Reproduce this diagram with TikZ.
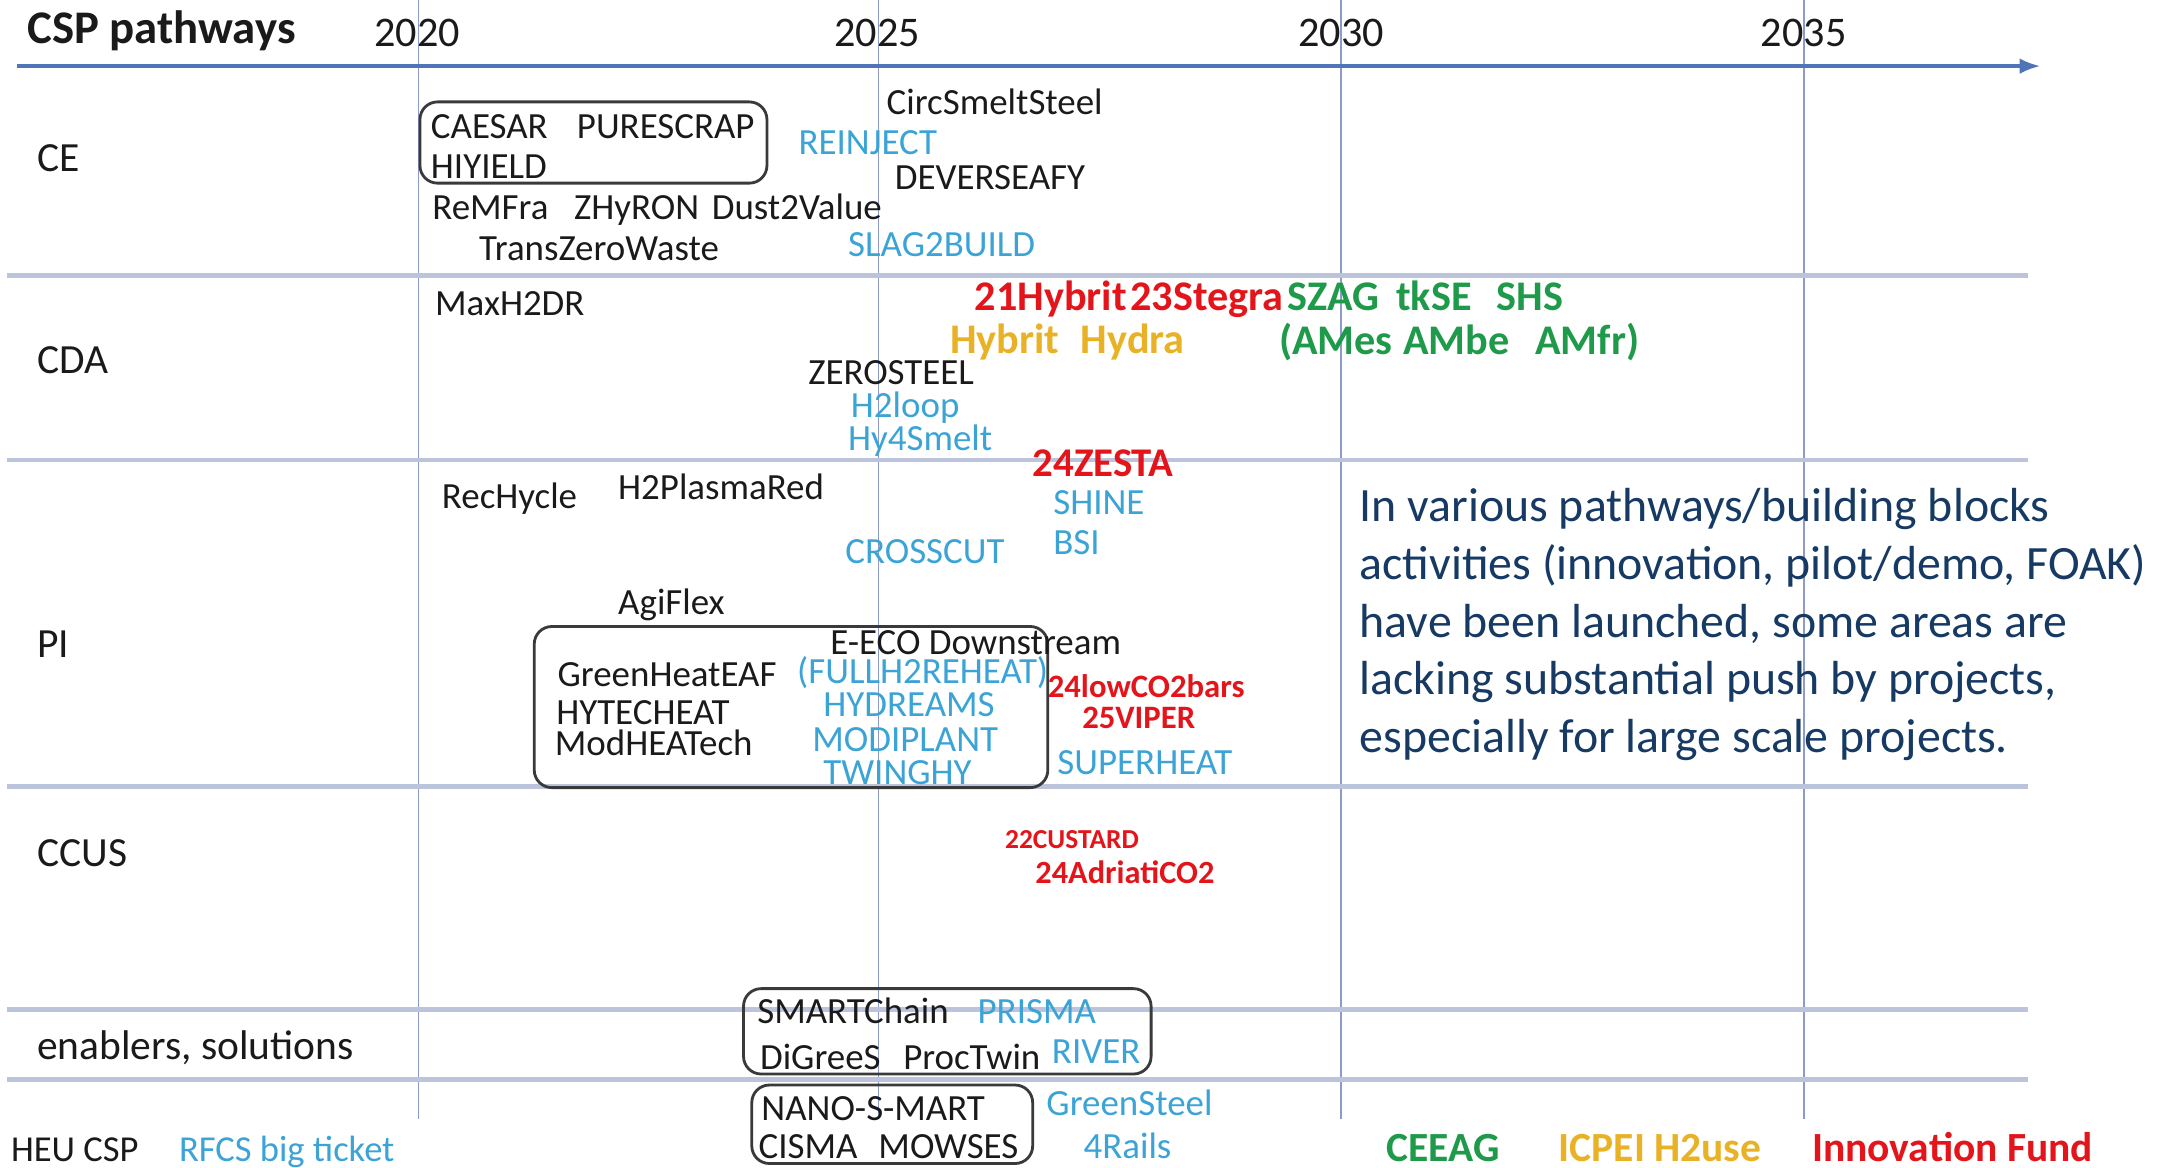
\documentclass[tikz,border=0pt]{standalone}
\usepackage{fontspec}
\setmainfont{Carlito}
\usetikzlibrary{arrows.meta}
\definecolor{projblue}{HTML}{3BA3D6}
\definecolor{projblack}{HTML}{1A1A1A}
\definecolor{ifred}{HTML}{E3151B}
\definecolor{ceegreen}{HTML}{1F9A4A}
\definecolor{h2gold}{HTML}{E9B125}
\definecolor{axisblue}{HTML}{4F75B8}
\definecolor{gridv}{HTML}{8C9BC9}
\definecolor{gridh}{HTML}{BCC4DC}
\definecolor{navytext}{HTML}{163A64}
\definecolor{boxgray}{HTML}{3A3A3A}
\newcommand\du{0.013769cm}
\newcommand\myfs[1]{\fontsize{#1}{#1}\selectfont}
\begin{document}
\begin{tikzpicture}[x=0.013769cm,y=-0.013769cm,
  txt/.style={anchor=mid west, inner sep=0pt, outer sep=0pt, yshift=-1.3pt},
  proj/.style={txt, font=\myfs{10.5}, text=projblack},
  projb/.style={proj, text=projblue},
  fundred/.style={txt, font=\bfseries\myfs{12}, text=ifred},
  fundgreen/.style={txt, font=\bfseries\myfs{12}, text=ceegreen},
  fundgold/.style={txt, font=\bfseries\myfs{12}, text=h2gold},
  rowlabel/.style={txt, font=\myfs{11.8}, text=projblack},
  yearlabel/.style={anchor=mid, inner sep=0pt, yshift=-1.3pt, font=\myfs{12}, text=projblack},
  grpbox/.style={draw=boxgray, line width=0.8pt, rounded corners=5pt, inner sep=0pt},
  hline/.style={draw=gridh, line width=1.3pt},
  vline/.style={draw=gridv, line width=0.45pt}
]
\useasboundingbox (0,0) rectangle (1568,848);
% vertical year lines
\foreach \xx in {304,638,974,1310} {\draw[vline] (\xx,0) -- (\xx,813);}
% row separators
\foreach \yy in {200,334,571,733,784} {\draw[hline] (5,\yy) -- (1473,\yy);}
% axis
\coordinate (axL) at (12,48);
\coordinate (axR) at (1482,48);
\draw[axisblue, line width=1.1pt, -{Latex[length=6pt,width=4.5pt]}] (axL) -- (axR);

% header
\node[txt, font=\bfseries\myfs{13.3}, text=projblack] (title) at (20,22) {CSP pathways};
\node[yearlabel] (y2020) at (303,24) {2020};
\node[yearlabel] (y2025) at (637,24) {2025};
\node[yearlabel] (y2030) at (974,24) {2030};
\node[yearlabel] (y2035) at (1310,24) {2035};

% row labels
\node[rowlabel] (rCE) at (27,115) {CE};
\node[rowlabel] (rCDA) at (27,262) {CDA};
\node[rowlabel] (rPI) at (27,468) {PI};
\node[rowlabel] (rCCUS) at (27,620) {CCUS};
\node[rowlabel] (rEN) at (27,760) {enablers, solutions};

% boxes
\node[grpbox, minimum width=252*\du, minimum height=59*\du] (boxCE) at (431,103.5) {};
\node[grpbox, minimum width=373*\du, minimum height=117*\du] (boxPI) at (574.5,513.5) {};
\node[grpbox, minimum width=296*\du, minimum height=62*\du] (boxEN) at (688,749) {};
\node[grpbox, minimum width=204*\du, minimum height=57*\du] (boxHEU) at (648,816.5) {};

% CE
\node[proj] (caesar) at (313,91) {CAESAR};
\node[proj] (purescrap) at (419,91) {PURESCRAP};
\node[proj] (hiyield) at (313,120) {HIYIELD};
\node[proj] (circ) at (644,74) {CircSmeltSteel};
\node[projb] (reinject) at (580,103) {REINJECT};
\node[proj] (deverse) at (650,128) {DEVERSEAFY};
\node[proj] (remfra) at (314,150) {ReMFra};
\node[proj] (zhyron) at (417,150) {ZHyRON};
\node[proj] (dust) at (517,150) {Dust2Value};
\node[proj] (tzw) at (348,180) {TransZeroWaste};
\node[projb] (slag) at (616,177) {SLAG2BUILD};

% CDA
\node[proj] (maxh2) at (316,220) {MaxH2DR};
\node[fundred] (hyb21) at (708,216) {21Hybrit};
\node[fundred] (steg23) at (821,216) {23Stegra};
\node[fundgreen] (szag) at (935,216) {SZAG};
\node[fundgreen] (tkse) at (1014,216) {tkSE};
\node[fundgreen] (shs) at (1087,216) {SHS};
\node[fundgold] (hybrit) at (690,247) {Hybrit};
\node[fundgold] (hydra) at (785,247) {Hydra};
\node[fundgreen] (ames) at (929,248) {(AMes};
\node[fundgreen] (ambe) at (1019,248) {AMbe};
\node[fundgreen] (amfr) at (1115,248) {AMfr)};
\node[proj] (zerosteel) at (587,270) {ZEROSTEEL};
\node[projb] (h2loop) at (618,294) {H2loop};
\node[projb] (hy4smelt) at (616,318) {Hy4Smelt};

% PI
\node[txt, font=\bfseries\myfs{11.6}, text=ifred] (zesta) at (750,337) {24ZESTA};
\node[proj] (rechycle) at (321,360) {RecHycle};
\node[proj] (h2plasma) at (449,353) {H2PlasmaRed};
\node[projb] (shine) at (765,364) {SHINE};
\node[projb] (bsi) at (765,393) {BSI};
\node[projb] (crosscut) at (614,400) {CROSSCUT};
\node[proj] (agiflex) at (449,437) {AgiFlex};
\node[proj] (eeco) at (603,466) {E-ECO Downstream};
\node[proj] (greenheat) at (405,489) {GreenHeatEAF};
\node[projb] (fullh2) at (579,487) {(FULLH2REHEAT)};
\node[txt, font=\bfseries\myfs{9.3}, text=ifred] (lowco2) at (761,497) {24lowCO2bars};
\node[proj] (hytecheat) at (404,517) {HYTECHEAT};
\node[projb] (hydreams) at (598,511) {HYDREAMS};
\node[txt, font=\bfseries\myfs{9.3}, text=ifred] (viper) at (786,520) {25VIPER};
\node[proj] (modheat) at (403,539) {ModHEATech};
\node[projb] (modiplant) at (590,536) {MODIPLANT};
\node[projb] (superheat) at (768,553) {SUPERHEAT};
\node[projb] (twinghy) at (598,560) {TWINGHY};

% CCUS
\node[txt, font=\bfseries\myfs{7.8}, text=ifred] (custard) at (730,607) {22CUSTARD};
\node[txt, font=\bfseries\myfs{9.2}, text=ifred] (adriati) at (752,632) {24AdriatiCO2};

% enablers
\node[proj] (smartchain) at (550,734) {SMARTChain};
\node[projb] (prisma) at (710,734) {PRISMA};
\node[proj] (digrees) at (552,767) {DiGreeS};
\node[proj] (proctwin) at (656,767) {ProcTwin};
\node[projb] (river) at (764,763) {RIVER};

% HEU CSP row
\node[proj] (nanosmart) at (553,804) {NANO-S-MART};
\node[proj] (cisma) at (551,832) {CISMA};
\node[proj] (mowses) at (638,832) {MOWSES};
\node[projb] (greensteel) at (760,801) {GreenSteel};
\node[projb] (fourrails) at (787,832) {4Rails};

% footer legend
\node[proj, font=\myfs{10.4}] (heucsp) at (8,834) {HEU CSP};
\node[projb, font=\myfs{10.4}] (rfcs) at (130,834) {RFCS big ticket};
\node[txt, font=\bfseries\myfs{11.8}, text=ceegreen] (legceeag) at (1007,834) {CEEAG};
\node[txt, font=\bfseries\myfs{11.8}, text=h2gold] (legicpei) at (1132,834) {ICPEI H2use};
\node[txt, font=\bfseries\myfs{11.8}, text=ifred] (legif) at (1316,834) {Innovation Fund};

% paragraph
\node[anchor=north west, inner sep=0pt, align=left, text=navytext,
      font=\fontsize{13.6}{16.45}\selectfont] (note) at (987,354)
  {In various pathways/building blocks\\
   activities (innovation, pilot/demo, FOAK)\\
   have been launched, some areas are\\
   lacking substantial push by projects,\\
   especially for large scale projects.};
\end{tikzpicture}
\end{document}
